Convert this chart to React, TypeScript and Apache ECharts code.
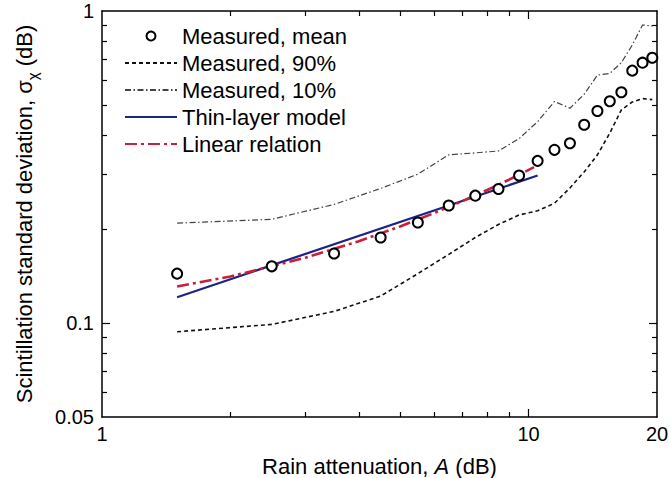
import React, { useEffect, useRef } from "react";
import * as echarts from "echarts";

// Rain attenuation (dB) of measured bins
const meanA = [1.5, 2.5, 3.5, 4.5, 5.5, 6.5, 7.5, 8.5, 9.5, 10.5, 11.5, 12.5, 13.5, 14.5, 15.5, 16.5, 17.5, 18.5, 19.5];
// Measured mean scintillation std (dB)
const meanSigma = [0.144, 0.152, 0.167, 0.188, 0.210, 0.238, 0.256, 0.269, 0.297, 0.331, 0.359, 0.377, 0.432, 0.478, 0.514, 0.549, 0.644, 0.683, 0.708];
// Measured 90% curve
const p90Sigma = [0.0938, 0.099, 0.109, 0.122, 0.144, 0.166, 0.188, 0.207, 0.222, 0.229, 0.242, 0.271, 0.305, 0.346, 0.406, 0.482, 0.511, 0.524, 0.520];
// Measured 10% curve
const p10Sigma = [0.209, 0.215, 0.240, 0.270, 0.300, 0.346, 0.351, 0.356, 0.390, 0.442, 0.513, 0.488, 0.541, 0.623, 0.631, 0.683, 0.778, 0.902, 0.895];
// Thin-layer model
const thinA = [1.5, 10.5];
const thinSigma = [0.121, 0.297];
// Linear relation
const linA = [1.5, 2, 3, 4, 5, 6, 7, 8, 9, 10.3];
const linSigma = [0.131, 0.141, 0.162, 0.183, 0.204, 0.225, 0.246, 0.267, 0.288, 0.316];

// Axis ticks / labels
const xLabels = [1, 10, 20];
const xMajorTicks = [10];
const xMinorTicks = [2, 3, 4, 5, 6, 7, 8, 9];
const yLabels = [0.05, 0.1, 1];
const yMajorTicks = [0.1];
const yMinorTicks = [0.06, 0.07, 0.08, 0.09, 0.2, 0.3, 0.4, 0.5, 0.6, 0.7, 0.8, 0.9];

const FONT = "'Liberation Sans', Arial, Helvetica, sans-serif";

const zip = (xs: number[], ys: number[]) => xs.map((x, i) => [x, ys[i]]);

export default function App() {
  const ref = useRef<HTMLDivElement>(null);
  useEffect(() => {
    if (!ref.current) return;
    const chart = echarts.init(ref.current, null, { renderer: "svg" });
    const fmt = (v: number) => String(+Number(v).toPrecision(3));
    const baseX = {
      type: "log" as const,
      logBase: 10,
      min: 1,
      max: 20,
      splitLine: { show: false },
      minorTick: { show: false },
      minorSplitLine: { show: false },
    };
    const baseY = {
      type: "log" as const,
      logBase: 10,
      min: 0.05,
      max: 1,
      splitLine: { show: false },
      minorTick: { show: false },
      minorSplitLine: { show: false },
    };
    const lineBlack = { show: true, lineStyle: { color: "#000", width: 1.5 } };
    const tickStyle = { color: "#000", width: 1.2 };
    const option: any = {
      animation: false,
      backgroundColor: "#fff",
      textStyle: { fontFamily: FONT },
      grid: { left: 102, right: 13, top: 11, bottom: 61, containLabel: false, outerBoundsMode: "none" },
      legend: {
        orient: "vertical",
        left: 119,
        top: 20,
        itemWidth: 52,
        itemHeight: 9,
        itemGap: 5,
        selectedMode: false,
        textStyle: { fontSize: 22, color: "#000", fontFamily: FONT },
        data: [
          { name: "Measured, mean" },
          { name: "Measured, 90%", itemStyle: { opacity: 0 } },
          { name: "Measured, 10%", itemStyle: { opacity: 0 } },
          { name: "Thin-layer model", itemStyle: { opacity: 0 } },
          { name: "Linear relation", itemStyle: { opacity: 0 } },
        ],
      },
      xAxis: [
        {
          ...baseX,
          position: "bottom",
          axisLine: lineBlack,
          axisTick: { show: true, inside: true, length: 8, lineStyle: tickStyle, customValues: xMajorTicks },
          axisLabel: {
            show: true,
            customValues: xLabels,
            formatter: fmt,
            fontSize: 20,
            color: "#000",
            margin: 7,
            fontFamily: FONT,
          },
          name: "Rain attenuation, {i|A} (dB)",
          nameLocation: "middle",
          nameGap: 38,
          nameTextStyle: {
            fontSize: 22,
            color: "#000",
            fontFamily: FONT,
            rich: { i: { fontSize: 22, fontStyle: "italic", color: "#000", fontFamily: FONT } },
          },
        },
        {
          ...baseX,
          position: "bottom",
          axisLine: { show: false },
          axisTick: { show: true, inside: true, length: 5, lineStyle: tickStyle, customValues: xMinorTicks },
          axisLabel: { show: false },
        },
        {
          ...baseX,
          position: "top",
          axisLine: lineBlack,
          axisTick: { show: true, inside: true, length: 8, lineStyle: tickStyle, customValues: xMajorTicks },
          axisLabel: { show: false },
        },
        {
          ...baseX,
          position: "top",
          axisLine: { show: false },
          axisTick: { show: true, inside: true, length: 5, lineStyle: tickStyle, customValues: xMinorTicks },
          axisLabel: { show: false },
        },
      ],
      yAxis: [
        {
          ...baseY,
          position: "left",
          axisLine: lineBlack,
          axisTick: { show: true, inside: true, length: 8, lineStyle: tickStyle, customValues: yMajorTicks },
          axisLabel: {
            show: true,
            customValues: yLabels,
            formatter: fmt,
            fontSize: 20,
            color: "#000",
            margin: 8,
            fontFamily: FONT,
          },
          name: "Scintillation standard deviation, σ{sub|χ} (dB)",
          nameLocation: "middle",
          nameGap: 62,
          nameTextStyle: {
            fontSize: 22,
            color: "#000",
            fontFamily: FONT,
            rich: {
              sub: { fontSize: 15, color: "#000", fontFamily: FONT, verticalAlign: "bottom", lineHeight: 31 },
            },
          },
        },
        {
          ...baseY,
          position: "left",
          axisLine: { show: false },
          axisTick: { show: true, inside: true, length: 5, lineStyle: tickStyle, customValues: yMinorTicks },
          axisLabel: { show: false },
        },
        {
          ...baseY,
          position: "right",
          axisLine: lineBlack,
          axisTick: { show: true, inside: true, length: 8, lineStyle: tickStyle, customValues: yMajorTicks },
          axisLabel: { show: false },
        },
        {
          ...baseY,
          position: "right",
          axisLine: { show: false },
          axisTick: { show: true, inside: true, length: 5, lineStyle: tickStyle, customValues: yMinorTicks },
          axisLabel: { show: false },
        },
      ],
      series: [
        {
          name: "Measured, mean",
          type: "scatter",
          xAxisIndex: 0,
          yAxisIndex: 0,
          symbol: "emptyCircle",
          symbolSize: 10,
          itemStyle: { color: "#000", borderColor: "#000", borderWidth: 2.4, opacity: 1 },
          data: zip(meanA, meanSigma),
          z: 5,
        },
        {
          name: "Measured, 90%",
          type: "line",
          xAxisIndex: 0,
          yAxisIndex: 0,
          symbol: "none",
          color: "#111",
          lineStyle: { color: "#111", width: 1.6, type: [4, 3] },
          data: zip(meanA, p90Sigma),
        },
        {
          name: "Measured, 10%",
          type: "line",
          xAxisIndex: 0,
          yAxisIndex: 0,
          symbol: "none",
          color: "#444",
          lineStyle: { color: "#444", width: 1.2, type: [6, 2.5, 1.5, 2.5] },
          data: zip(meanA, p10Sigma),
        },
        {
          name: "Thin-layer model",
          type: "line",
          xAxisIndex: 0,
          yAxisIndex: 0,
          symbol: "none",
          color: "#1c2383",
          lineStyle: { color: "#1c2383", width: 2.2, type: "solid" },
          data: zip(thinA, thinSigma),
        },
        {
          name: "Linear relation",
          type: "line",
          xAxisIndex: 0,
          yAxisIndex: 0,
          symbol: "none",
          color: "#c8203c",
          lineStyle: { color: "#c8203c", width: 2.6, type: [12, 4, 3, 4] },
          data: zip(linA, linSigma),
          z: 3,
        },
      ],
    };
    chart.setOption(option);
    return () => chart.dispose();
  }, []);
  return (
    <div
      ref={ref}
      style={{ position: "fixed", left: 0, top: 0, width: 670, height: 478, background: "#fff" }}
    />
  );
}
